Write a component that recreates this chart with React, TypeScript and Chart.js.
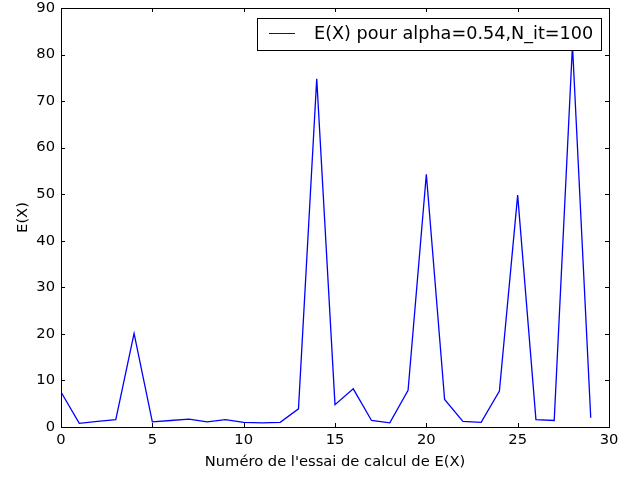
import React, { useEffect, useRef } from "react";
import { Chart, registerables } from "chart.js";

Chart.register(...registerables);

const trials: number[] = Array.from({ length: 30 }, (_, i) => i);
const expectations: number[] = [
  7.5, 0.8, 1.2, 1.6, 20.1, 1.1, 1.4, 1.7, 1.1, 1.6,
  1.0, 0.9, 1.0, 3.9, 74.8, 4.8, 8.2, 1.4, 0.9, 7.9,
  54.3, 5.9, 1.2, 1.0, 7.7, 49.8, 1.6, 1.4, 82.0, 2.0,
];
const seriesLabel = "E(X) pour alpha=0.54,N_it=100";
const xTitle = "Numéro de l'essai de calcul de E(X)";
const yTitle = "E(X)";

const FONT = "'DejaVu Sans', sans-serif";
const FS = 14.7;

const framePlugin = {
  id: "mplFrame",
  afterDatasetsDraw(chart: any) {
    const { ctx, chartArea: a, scales } = chart;
    ctx.save();
    ctx.strokeStyle = "#000";
    ctx.lineWidth = 1;
    ctx.beginPath();
    const xs = scales.x;
    const ys = scales.y;
    const tl = 4;
    xs.ticks.forEach((t: any) => {
      const px = Math.round(xs.getPixelForValue(t.value)) + 0.5;
      ctx.moveTo(px, a.bottom);
      ctx.lineTo(px, a.bottom - tl);
      ctx.moveTo(px, a.top);
      ctx.lineTo(px, a.top + tl);
    });
    ys.ticks.forEach((t: any) => {
      const py = Math.round(ys.getPixelForValue(t.value)) + 0.5;
      ctx.moveTo(a.left, py);
      ctx.lineTo(a.left + tl, py);
      ctx.moveTo(a.right, py);
      ctx.lineTo(a.right - tl, py);
    });
    ctx.stroke();
    ctx.strokeRect(Math.round(a.left) + 0.5, Math.round(a.top) + 0.5, Math.round(a.right - a.left), Math.round(a.bottom - a.top));

    // legend box
    const lx = 257.5, ly = 18.5, lw = 344, lh = 32;
    ctx.fillStyle = "#fff";
    ctx.fillRect(lx, ly, lw, lh);
    ctx.strokeStyle = "#000";
    ctx.strokeRect(lx, ly, lw, lh);
    ctx.strokeStyle = "#0000ff";
    ctx.beginPath();
    ctx.moveTo(269, 33.5);
    ctx.lineTo(295, 33.5);
    ctx.stroke();
    ctx.fillStyle = "#000";
    ctx.font = `${FS * 1.2}px ${FONT}`;
    ctx.textBaseline = "middle";
    ctx.textAlign = "left";
    ctx.fillText(chart.data.datasets[0].label, 314, 34);
    ctx.restore();
  },
};

export default function App() {
  const ref = useRef<HTMLCanvasElement | null>(null);
  useEffect(() => {
    document.body.style.margin = "0";
    const c = new Chart(ref.current as HTMLCanvasElement, {
      type: "line",
      data: {
        datasets: [
          {
            label: seriesLabel,
            data: trials.map((x, i) => ({ x, y: expectations[i] })),
            borderColor: "#0000ff",
            borderWidth: 1.3,
            pointRadius: 0,
            tension: 0,
            fill: false,
          },
        ],
      },
      options: {
        animation: false,
        responsive: false,
        devicePixelRatio: 1,
        layout: { padding: { top: 8, right: 29, left: 0, bottom: 0 } },
        plugins: { legend: { display: false }, tooltip: { enabled: false } },
        scales: {
          x: {
            type: "linear",
            min: 0,
            max: 30,
            border: { display: false },
            grid: { display: false, drawTicks: false },
            ticks: { stepSize: 5, color: "#000", font: { family: FONT, size: FS }, padding: 4, maxRotation: 0 },
            title: { display: true, text: xTitle, color: "#000", font: { family: FONT, size: FS }, padding: { top: 2, bottom: 6 } },
            afterFit: (s: any) => { s.height = 50; },
          },
          y: {
            min: 0,
            max: 90,
            border: { display: false },
            grid: { display: false, drawTicks: false },
            ticks: { stepSize: 10, color: "#000", font: { family: FONT, size: FS }, padding: 6 },
            title: { display: true, text: yTitle, color: "#000", font: { family: FONT, size: FS }, padding: { top: 14, bottom: 0 } },
            afterFit: (s: any) => { s.width = 61; s.paddingTop = 0; s.paddingBottom = 0; },
          },
        },
      },
      plugins: [framePlugin],
    } as any);
    return () => c.destroy();
  }, []);
  return (
    <div style={{ position: "absolute", left: 0, top: 0, width: 638, height: 477 }}>
      <canvas ref={ref} width={638} height={477} />
    </div>
  );
}
